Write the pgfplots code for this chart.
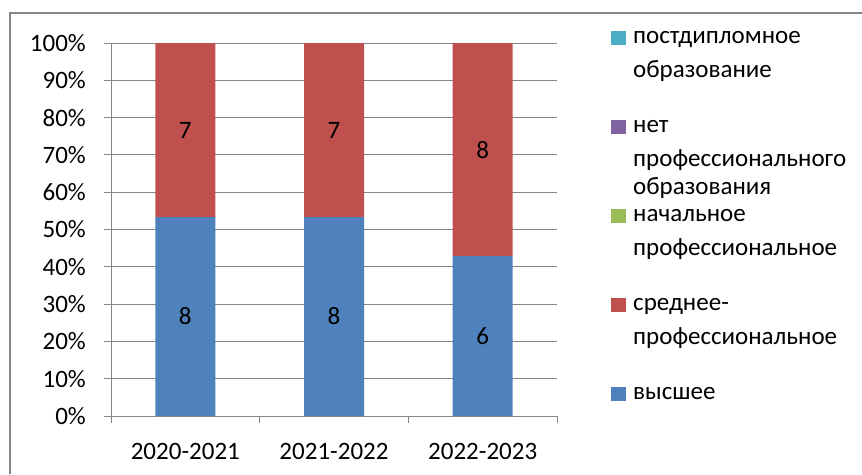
\documentclass[border=0pt]{standalone}
\usepackage{pgfplots}
\pgfplotsset{compat=1.18}
\usepackage{pgfplotstable}
\usepackage{fontspec}
\setmainfont{Carlito}
\definecolor{cblue}{HTML}{4F81BD}
\definecolor{cred}{HTML}{C0504D}
\definecolor{cgreen}{HTML}{9BBB59}
\definecolor{cpurple}{HTML}{8064A2}
\definecolor{ccyan}{HTML}{4BACC6}
\definecolor{gridc}{HTML}{868686}
\pgfplotstableread{
x high mid
1 8 7
2 8 7
3 6 8
}\data
\newcommand{\f}{\fontsize{25}{34}\selectfont}
\begin{document}
\begin{tikzpicture}[x=1pt,y=1pt]
\draw[gridc, line width=1.5pt] (10,-474) -- (10,-13) -- (862,-13);
\begin{axis}[
  at={(111pt,-416pt)}, anchor=south west,
  scale only axis, width=446pt, height=373pt,
  ymin=0, ymax=100, xmin=0.5, xmax=3.5, enlargelimits=false,
  ybar stacked, bar width=60pt,
  axis x line=bottom, axis y line=left,
  axis line style={gridc, line width=1pt, -},
  tick align=outside, major tick length=7pt,
  tick style={gridc, line width=1pt},
  xtick={0.5,1.5,2.5,3.5}, xticklabels={},
  extra x ticks={1,2,3},
  extra x tick labels={2020-2021,2021-2022,2022-2023},
  extra x tick style={major tick length=0pt},
  xticklabel style={yshift=-27pt},
  ytick={0,10,...,100},
  yticklabel={\pgfmathprintnumber{\tick}\%},
  yticklabel style={xshift=-18pt},
  ymajorgrids, major grid style={gridc, line width=1pt},
  /pgf/number format/assume math mode=true,
  ticklabel style={font=\f, text=black, inner sep=0pt},
  legend style={at={(1.1211,1.063)}, anchor=north west, draw=none, fill=none,
    inner sep=0pt, font=\f, cells={anchor=base west},
    nodes={inner sep=0pt, text depth=, anchor=base west}, column sep=7pt, row sep=0pt},
  legend image code/.code={\fill[#1, draw=none] (0pt,-1pt) rectangle (15pt,13pt);},
  nodes near coords, point meta=explicit,
  every node near coord/.append style={font=\f, text=black},
]
\addplot[fill=cblue, draw=none, forget plot]
  table[x=x, y expr={\thisrow{high}/(\thisrow{high}+\thisrow{mid})*100}, meta=high] {\data};
\addplot[fill=cred, draw=none, forget plot]
  table[x=x, y expr={\thisrow{mid}/(\thisrow{high}+\thisrow{mid})*100}, meta=mid] {\data};
\addlegendimage{fill=ccyan, draw=none}
\addlegendentry{\parbox[t][89pt][t]{230pt}{\strut постдипломное\\образование}}
\addlegendimage{fill=cpurple, draw=none}
\addlegendentry{\parbox[t][89pt][t]{230pt}{\strut нет\\профессионального\\[-6pt]образования}}
\addlegendimage{fill=cgreen, draw=none}
\addlegendentry{\parbox[t][89pt][t]{230pt}{\strut начальное\\профессиональное}}
\addlegendimage{fill=cred, draw=none}
\addlegendentry{\parbox[t][89pt][t]{230pt}{\strut среднее-\\профессиональное}}
\addlegendimage{fill=cblue, draw=none}
\addlegendentry{\parbox[t][89pt][t]{230pt}{\strut высшее}}
\end{axis}
\pgfresetboundingbox
\path[use as bounding box] (0,0) rectangle (862,-474);
\end{tikzpicture}
\end{document}
